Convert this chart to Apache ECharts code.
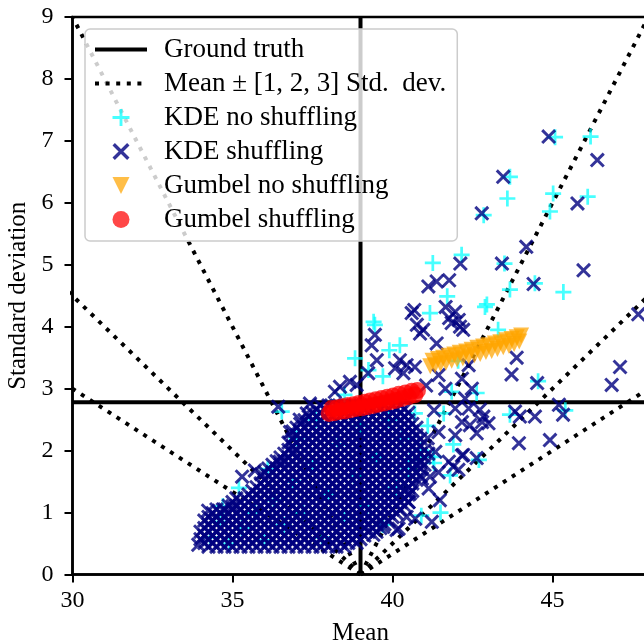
<!DOCTYPE html>
<html>
<head>
<meta charset="utf-8">
<script src="https://cdn.jsdelivr.net/npm/echarts@6/dist/echarts.min.js"></script>
<style>
html, body { margin: 0; padding: 0; background: #fff; }
#chart { width: 644px; height: 644px; }
</style>
</head>
<body>
<div id="chart"></div>
<script>
// ground truth and the reference lines
var trueMean = 39;
var trueStd = 2.78;
var sdMultiples = [1, 2, 3];
var xTicks = [30, 48, 5];   // min, max, interval
var yTicks = [0, 9, 1];

// KDE shuffling: dense core, one row per std value
var kdeShufCore = [
    [0.45, [34.25, 34.5, 34.75, 35, 35.25, 35.5, 35.75, 36, 36.25, 36.5, 36.75, 37, 37.25, 37.5, 37.75, 38, 38.25, 38.5]],
    [0.51, [34.12, 34.38, 34.62, 34.88, 35.12, 35.38, 35.62, 35.88, 36.12, 36.38, 36.62, 36.88, 37.12, 37.38, 37.62, 37.88, 38.12, 38.38, 38.62, 38.88]],
    [0.57, [34, 34.25, 34.5, 34.75, 35, 35.25, 35.5, 35.75, 36, 36.25, 36.5, 36.75, 37, 37.25, 37.5, 37.75, 38, 38.25, 38.5, 38.75, 39]],
    [0.63, [34.12, 34.38, 34.62, 34.88, 35.12, 35.38, 35.62, 35.88, 36.12, 36.38, 36.62, 36.88, 37.12, 37.38, 37.62, 37.88, 38.12, 38.38, 38.62, 38.88, 39.12]],
    [0.69, [34, 34.25, 34.5, 34.75, 35, 35.25, 35.5, 35.75, 36, 36.25, 36.5, 36.75, 37, 37.25, 37.5, 37.75, 38, 38.25, 38.5, 38.75, 39, 39.25, 39.5]],
    [0.75, [34.12, 34.38, 34.62, 34.88, 35.12, 35.38, 35.62, 35.88, 36.12, 36.38, 36.62, 36.88, 37.12, 37.38, 37.62, 37.88, 38.12, 38.38, 38.62, 38.88, 39.12, 39.38, 39.62]],
    [0.81, [34.25, 34.5, 34.75, 35, 35.25, 35.5, 35.75, 36, 36.25, 36.5, 36.75, 37, 37.25, 37.5, 37.75, 38, 38.25, 38.5, 38.75, 39, 39.25, 39.5, 39.75]],
    [0.87, [34.12, 34.38, 34.62, 34.88, 35.12, 35.38, 35.62, 35.88, 36.12, 36.38, 36.62, 36.88, 37.12, 37.38, 37.62, 37.88, 38.12, 38.38, 38.62, 38.88, 39.12, 39.38, 39.62, 39.88]],
    [0.93, [34.25, 34.5, 34.75, 35, 35.25, 35.5, 35.75, 36, 36.25, 36.5, 36.75, 37, 37.25, 37.5, 37.75, 38, 38.25, 38.5, 38.75, 39, 39.25, 39.5, 39.75, 40]],
    [0.99, [34.38, 34.62, 34.88, 35.12, 35.38, 35.62, 35.88, 36.12, 36.38, 36.62, 36.88, 37.12, 37.38, 37.62, 37.88, 38.12, 38.38, 38.62, 38.88, 39.12, 39.38, 39.62, 39.88, 40.12]],
    [1.05, [34.5, 34.75, 35, 35.25, 35.5, 35.75, 36, 36.25, 36.5, 36.75, 37, 37.25, 37.5, 37.75, 38, 38.25, 38.5, 38.75, 39, 39.25, 39.5, 39.75, 40, 40.25]],
    [1.11, [34.88, 35.12, 35.38, 35.62, 35.88, 36.12, 36.38, 36.62, 36.88, 37.12, 37.38, 37.62, 37.88, 38.12, 38.38, 38.62, 38.88, 39.12, 39.38, 39.62, 39.88, 40.12, 40.38]],
    [1.17, [35, 35.25, 35.5, 35.75, 36, 36.25, 36.5, 36.75, 37, 37.25, 37.5, 37.75, 38, 38.25, 38.5, 38.75, 39, 39.25, 39.5, 39.75, 40, 40.25, 40.5]],
    [1.23, [35.12, 35.38, 35.62, 35.88, 36.12, 36.38, 36.62, 36.88, 37.12, 37.38, 37.62, 37.88, 38.12, 38.38, 38.62, 38.88, 39.12, 39.38, 39.62, 39.88, 40.12, 40.38]],
    [1.29, [35.5, 35.75, 36, 36.25, 36.5, 36.75, 37, 37.25, 37.5, 37.75, 38, 38.25, 38.5, 38.75, 39, 39.25, 39.5, 39.75, 40, 40.25, 40.5]],
    [1.35, [35.62, 35.88, 36.12, 36.38, 36.62, 36.88, 37.12, 37.38, 37.62, 37.88, 38.12, 38.38, 38.62, 38.88, 39.12, 39.38, 39.62, 39.88, 40.12, 40.38, 40.62]],
    [1.41, [35.75, 36, 36.25, 36.5, 36.75, 37, 37.25, 37.5, 37.75, 38, 38.25, 38.5, 38.75, 39, 39.25, 39.5, 39.75, 40, 40.25, 40.5]],
    [1.47, [35.88, 36.12, 36.38, 36.62, 36.88, 37.12, 37.38, 37.62, 37.88, 38.12, 38.38, 38.62, 38.88, 39.12, 39.38, 39.62, 39.88, 40.12, 40.38, 40.62]],
    [1.53, [36, 36.25, 36.5, 36.75, 37, 37.25, 37.5, 37.75, 38, 38.25, 38.5, 38.75, 39, 39.25, 39.5, 39.75, 40, 40.25, 40.5, 40.75]],
    [1.59, [36.12, 36.38, 36.62, 36.88, 37.12, 37.38, 37.62, 37.88, 38.12, 38.38, 38.62, 38.88, 39.12, 39.38, 39.62, 39.88, 40.12, 40.38, 40.62, 40.88]],
    [1.65, [36, 36.25, 36.5, 36.75, 37, 37.25, 37.5, 37.75, 38, 38.25, 38.5, 38.75, 39, 39.25, 39.5, 39.75, 40, 40.25, 40.5, 40.75]],
    [1.71, [36.12, 36.38, 36.62, 36.88, 37.12, 37.38, 37.62, 37.88, 38.12, 38.38, 38.62, 38.88, 39.12, 39.38, 39.62, 39.88, 40.12, 40.38, 40.62, 40.88]],
    [1.77, [36.25, 36.5, 36.75, 37, 37.25, 37.5, 37.75, 38, 38.25, 38.5, 38.75, 39, 39.25, 39.5, 39.75, 40, 40.25, 40.5, 40.75, 41]],
    [1.83, [36.38, 36.62, 36.88, 37.12, 37.38, 37.62, 37.88, 38.12, 38.38, 38.62, 38.88, 39.12, 39.38, 39.62, 39.88, 40.12, 40.38, 40.62, 40.88]],
    [1.89, [36.5, 36.75, 37, 37.25, 37.5, 37.75, 38, 38.25, 38.5, 38.75, 39, 39.25, 39.5, 39.75, 40, 40.25, 40.5, 40.75, 41]],
    [1.95, [36.62, 36.88, 37.12, 37.38, 37.62, 37.88, 38.12, 38.38, 38.62, 38.88, 39.12, 39.38, 39.62, 39.88, 40.12, 40.38, 40.62, 40.88, 41.12]],
    [2.01, [36.75, 37, 37.25, 37.5, 37.75, 38, 38.25, 38.5, 38.75, 39, 39.25, 39.5, 39.75, 40, 40.25, 40.5, 40.75, 41]],
    [2.07, [36.88, 37.12, 37.38, 37.62, 37.88, 38.12, 38.38, 38.62, 38.88, 39.12, 39.38, 39.62, 39.88, 40.12, 40.38, 40.62, 40.88]],
    [2.13, [36.75, 37, 37.25, 37.5, 37.75, 38, 38.25, 38.5, 38.75, 39, 39.25, 39.5, 39.75, 40, 40.25, 40.5, 40.75]],
    [2.19, [36.88, 37.12, 37.38, 37.62, 37.88, 38.12, 38.38, 38.62, 38.88, 39.12, 39.38, 39.62, 39.88, 40.12, 40.38, 40.62, 40.88]],
    [2.25, [37, 37.25, 37.5, 37.75, 38, 38.25, 38.5, 38.75, 39, 39.25, 39.5, 39.75, 40, 40.25, 40.5, 40.75]],
    [2.31, [36.88, 37.12, 37.38, 37.62, 37.88, 38.12, 38.38, 38.62, 38.88, 39.12, 39.38, 39.62, 39.88, 40.12, 40.38, 40.62]],
    [2.37, [37, 37.25, 37.5, 37.75, 38, 38.25, 38.5, 38.75, 39, 39.25, 39.5, 39.75, 40, 40.25, 40.5, 40.75]],
    [2.43, [37.12, 37.38, 37.62, 37.88, 38.12, 38.38, 38.62, 38.88, 39.12, 39.38, 39.62, 39.88, 40.12, 40.38, 40.62]],
    [2.49, [37.25, 37.5, 37.75, 38, 38.25, 38.5, 38.75, 39, 39.25, 39.5, 39.75, 40, 40.25, 40.5]],
    [2.55, [37.38, 37.62, 37.88, 38.12, 38.38, 38.62, 38.88, 39.12, 39.38, 39.62, 39.88, 40.12, 40.38]],
    [2.61, [37.5, 37.75, 38, 38.25, 38.5, 38.75, 39, 39.25, 39.5, 39.75, 40, 40.25, 40.5]],
    [2.67, [37.62, 37.88, 38.12, 38.38, 38.62, 38.88, 39.12, 39.38, 39.62, 39.88, 40.12, 40.38]],
    [2.73, [37.75, 38, 38.25, 38.5, 38.75, 39, 39.25, 39.5, 39.75, 40, 40.25]]
];

// KDE shuffling: scattered points outside the core
var kdeShufOut = [
    [44.88, 7.07], [46.40, 6.69], [43.46, 6.42], [42.79, 5.83], [45.78, 5.99], [44.18, 5.29],
    [42.12, 5.02], [43.42, 5.02], [45.97, 4.91], [44.41, 4.69], [41.12, 4.65], [41.38, 4.73],
    [41.77, 4.75], [40.68, 4.27], [41.66, 4.32], [41.96, 4.24], [41.77, 4.14], [42.07, 4.11],
    [41.85, 4.06], [42.21, 3.95], [42.11, 4.0], [41.38, 3.73], [40.96, 3.95], [43.88, 3.50],
    [43.72, 3.23], [44.52, 3.09], [45.2, 2.74], [45.33, 2.58], [43.98, 2.55], [44.45, 2.55],
    [43.83, 2.63], [43.95, 2.12], [44.92, 2.17], [47.11, 3.35], [46.85, 3.06], [47.68, 4.20],
    [42.73, 2.66], [42.84, 2.55], [42.63, 2.28], [43.0, 2.44], [42.42, 2.41], [42.21, 1.93],
    [42.63, 1.88], [41.9, 1.74], [42.06, 1.69], [41.23, 0.85], [40.71, 0.9], [40.19, 0.74],
    [40.5, 1.17], [41.13, 1.39], [40.92, 1.55], [41.44, 1.65], [41.76, 1.82], [42.17, 1.92],
    [41.34, 1.98], [41.44, 2.3], [41.96, 2.25], [42.17, 2.46], [42.8, 2.46], [42.38, 2.68],
    [41.96, 2.68], [42.27, 2.84], [42.48, 3.0], [42.17, 3.16], [42.38, 3.38], [41.65, 3.0],
    [41.44, 3.22], [40.6, 4.22], [40.86, 3.89], [40.76, 4.03], [39.45, 3.87], [39.35, 3.7],
    [39.51, 3.46], [39.24, 3.25], [40.23, 3.46], [40.44, 3.38], [40.08, 3.33], [40.7, 3.35],
    [40.34, 3.25], [38.67, 3.11], [38.88, 3.06], [38.36, 3.03], [38.2, 2.95], [37.42, 2.76],
    [36.43, 2.71], [37.32, 2.6], [35.3, 1.58], [35.7, 1.68], [34.24, 1.03], [33.93, 0.48],
    [36.8, 2.3], [36.9, 1.98], [36.48, 1.82], [41.48, 1.2], [40.86, 1.8], [41.17, 1.58],
    [40.55, 1.31], [40.44, 0.93], [40.13, 0.72], [39.71, 0.77], [39.4, 0.64], [34.7, 1.05],
    [35.0, 1.1], [35.9, 1.62], [37.1, 2.5], [41.1, 2.2], [41.3, 2.65], [41.05, 3.05]
];

// KDE no shuffling
var kdeNoShuf = [
    [45.08, 7.06], [46.19, 7.07], [43.67, 6.42], [43.59, 6.07], [42.85, 5.80], [45.02, 6.15],
    [44.92, 5.86], [46.1, 6.10], [41.26, 5.03], [42.16, 5.16], [43.5, 5.02], [44.45, 4.70],
    [43.67, 4.60], [45.34, 4.56], [42.89, 4.32], [42.95, 4.36], [41.71, 4.49], [41.17, 4.22],
    [43.3, 3.95], [42.63, 2.93], [43.67, 2.58], [45.4, 2.65], [44.55, 3.12], [42.7, 1.85],
    [39.41, 4.08], [38.83, 3.49], [39.45, 4.03], [40.23, 3.7], [39.9, 3.62], [38.5, 2.9],
    [41.28, 1.9], [40.55, 1.85], [41.8, 1.6], [40.9, 0.95], [41.5, 1.0], [39.25, 3.3],
    [39.7, 3.2], [36.54, 2.63], [42.05, 3.45], [41.85, 2.95],
    [34.3, 0.6], [34.6, 0.85], [34.9, 0.5], [35.3, 0.75], [35.7, 1.0], [36.0, 0.55],
    [36.3, 1.2], [36.6, 0.8], [36.9, 1.5], [37.2, 1.0], [37.5, 1.8], [37.8, 0.6],
    [38.0, 1.3], [38.3, 2.1], [38.5, 0.9], [38.8, 1.6], [39.0, 2.4], [39.2, 1.1],
    [39.5, 1.9], [39.7, 0.8], [39.9, 2.5], [40.1, 1.4], [40.3, 2.2], [40.5, 1.7],
    [40.7, 2.6], [40.9, 2.0], [41.1, 2.4], [41.3, 1.8], [35.2, 1.4], [37.0, 2.2],
    [38.1, 2.7], [34.7, 1.1], [36.1, 1.7], [37.6, 2.5], [41.6, 2.6], [41.9, 2.1]
];

var gumbelNoShuf = [
    [41.18, 3.36], [41.25, 3.45], [41.33, 3.38], [41.42, 3.48], [41.5, 3.40], [41.58, 3.50],
    [41.67, 3.42], [41.75, 3.53], [41.85, 3.45], [41.93, 3.55], [42.02, 3.47], [42.1, 3.58],
    [42.2, 3.49], [42.3, 3.60], [42.38, 3.52], [42.47, 3.63], [42.56, 3.54], [42.65, 3.66],
    [42.74, 3.56], [42.83, 3.68], [42.92, 3.59], [43.0, 3.70], [43.1, 3.61], [43.2, 3.73],
    [43.28, 3.64], [43.37, 3.75], [43.46, 3.67], [43.55, 3.78], [43.64, 3.69], [43.72, 3.80],
    [43.8, 3.72], [43.88, 3.83], [43.96, 3.76], [44.02, 3.86]
];

var gumbelShuf = [
    [38.02, 2.60], [38.1, 2.68], [38.18, 2.61], [38.27, 2.69], [38.35, 2.63], [38.44, 2.71],
    [38.52, 2.64], [38.6, 2.73], [38.7, 2.66], [38.78, 2.74], [38.87, 2.68], [38.95, 2.76],
    [39.04, 2.69], [39.13, 2.78], [39.22, 2.71], [39.3, 2.80], [39.4, 2.73], [39.48, 2.82],
    [39.57, 2.75], [39.66, 2.84], [39.75, 2.77], [39.84, 2.86], [39.93, 2.79], [40.02, 2.88],
    [40.1, 2.81], [40.2, 2.91], [40.3, 2.84], [40.4, 2.93], [40.5, 2.87], [40.6, 2.96],
    [40.7, 2.90], [40.78, 2.97]
];

var names = ['Ground truth', 'Mean \u00b1 [1, 2, 3] Std.  dev.', 'KDE no shuffling',
    'KDE shuffling', 'Gumbel no shuffling', 'Gumbel shuffling'];

var serif = "'Liberation Serif', 'Times New Roman', serif";
var plusPath = 'path://M-1,-0.17L1,-0.17L1,0.17L-1,0.17Z M-0.17,-1L0.17,-1L0.17,1L-0.17,1Z';
var crossPath = 'path://M-0.72,-1L1,0.72L0.72,1L-1,-0.72Z M0.72,-1L1,-0.72L-0.72,1L-1,0.72Z';
var trianglePath = 'path://M-1,-1L1,-1L0,1Z';
var solidLine = { color: '#000', width: 4 };
var dotLine = { color: '#000', width: 4, type: [4, 6.6], cap: 'butt' };

var kdeShufData = [];
kdeShufCore.forEach(function (row) {
    row[1].forEach(function (x) { kdeShufData.push([x, row[0]]); });
});
kdeShufData = kdeShufData.concat(kdeShufOut);

// reference lines first, the markers are drawn over them
var series = [];
series.push({
    name: names[0], type: 'line', symbol: 'none', z: 2,
    lineStyle: solidLine, itemStyle: { color: '#000', opacity: 0 },
    data: [[trueMean, yTicks[0]], [trueMean, yTicks[1]]]
});
series.push({
    name: names[0], type: 'line', symbol: 'none', z: 2,
    lineStyle: solidLine, itemStyle: { color: '#000', opacity: 0 },
    data: [[xTicks[0], trueStd], [xTicks[1], trueStd]]
});
sdMultiples.forEach(function (k) {
    [-1, 1].forEach(function (side) {
        series.push({
            name: names[1], type: 'line', symbol: 'none', clip: true, z: 2,
            lineStyle: dotLine, itemStyle: { color: '#000', opacity: 0 },
            data: [[trueMean, 0], [trueMean + side * k * yTicks[1], yTicks[1]]]
        });
    });
});
series.push({
    name: names[2], type: 'scatter', symbol: plusPath, symbolSize: 16, z: 3,
    itemStyle: { color: 'rgba(0,255,255,0.9)' }, data: kdeNoShuf
});
series.push({
    name: names[3], type: 'scatter', symbol: crossPath, symbolSize: 15, z: 3,
    itemStyle: { color: '#000080' }, data: kdeShufData
});
series.push({
    name: names[4], type: 'scatter', symbol: trianglePath, symbolSize: 16, z: 3,
    itemStyle: { color: 'rgba(255,165,0,0.9)' }, data: gumbelNoShuf
});
series.push({
    name: names[5], type: 'scatter', symbol: 'circle', symbolSize: 17, z: 3,
    itemStyle: { color: 'rgba(255,0,0,0.9)' }, data: gumbelShuf
});

var legendData = [
    { name: names[0], itemStyle: { opacity: 0 }, lineStyle: solidLine },
    { name: names[1], itemStyle: { opacity: 0 }, lineStyle: dotLine },
    { name: names[2] }, { name: names[3] }, { name: names[4] }, { name: names[5] }
];

var option = {
    animation: false,
    backgroundColor: '#fff',
    grid: {
        left: 72.5, top: 17, right: -4.5, bottom: 69.5,
        outerBoundsMode: 'none', containLabel: false,
        show: true, borderColor: '#000', borderWidth: 2.5, backgroundColor: 'transparent'
    },
    legend: {
        orient: 'vertical',
        left: 85, top: 29,
        padding: [7, 11, 8, 8],
        itemWidth: 52, itemHeight: 17, itemGap: 7,
        backgroundColor: 'rgba(255,255,255,0.8)',
        borderColor: '#cccccc', borderWidth: 1.5, borderRadius: 5,
        textStyle: { fontFamily: serif, fontSize: 27, color: '#000', padding: [0, 0, 0, 12] },
        data: legendData
    },
    xAxis: {
        type: 'value', min: xTicks[0], max: xTicks[1], interval: xTicks[2],
        name: 'Mean', nameLocation: 'middle', nameGap: 46,
        nameTextStyle: { fontFamily: serif, fontSize: 25, color: '#000' },
        axisLine: { lineStyle: { color: '#000', width: 2.5 } },
        axisTick: { length: 8, lineStyle: { color: '#000', width: 2 } },
        axisLabel: { fontFamily: serif, fontSize: 24, color: '#000', margin: 14, showMaxLabel: false },
        splitLine: { show: false }
    },
    yAxis: {
        type: 'value', min: yTicks[0], max: yTicks[1], interval: yTicks[2],
        name: 'Standard deviation', nameLocation: 'middle', nameGap: 42, nameRotate: 90,
        nameTextStyle: { fontFamily: serif, fontSize: 25, color: '#000' },
        axisLine: { lineStyle: { color: '#000', width: 2.5 } },
        axisTick: { length: 8, lineStyle: { color: '#000', width: 2 } },
        axisLabel: { fontFamily: serif, fontSize: 24, color: '#000', margin: 19 },
        splitLine: { show: false }
    },
    series: series
};

var myChart = echarts.init(document.getElementById('chart'));
myChart.setOption(option);
</script>
</body>
</html>
